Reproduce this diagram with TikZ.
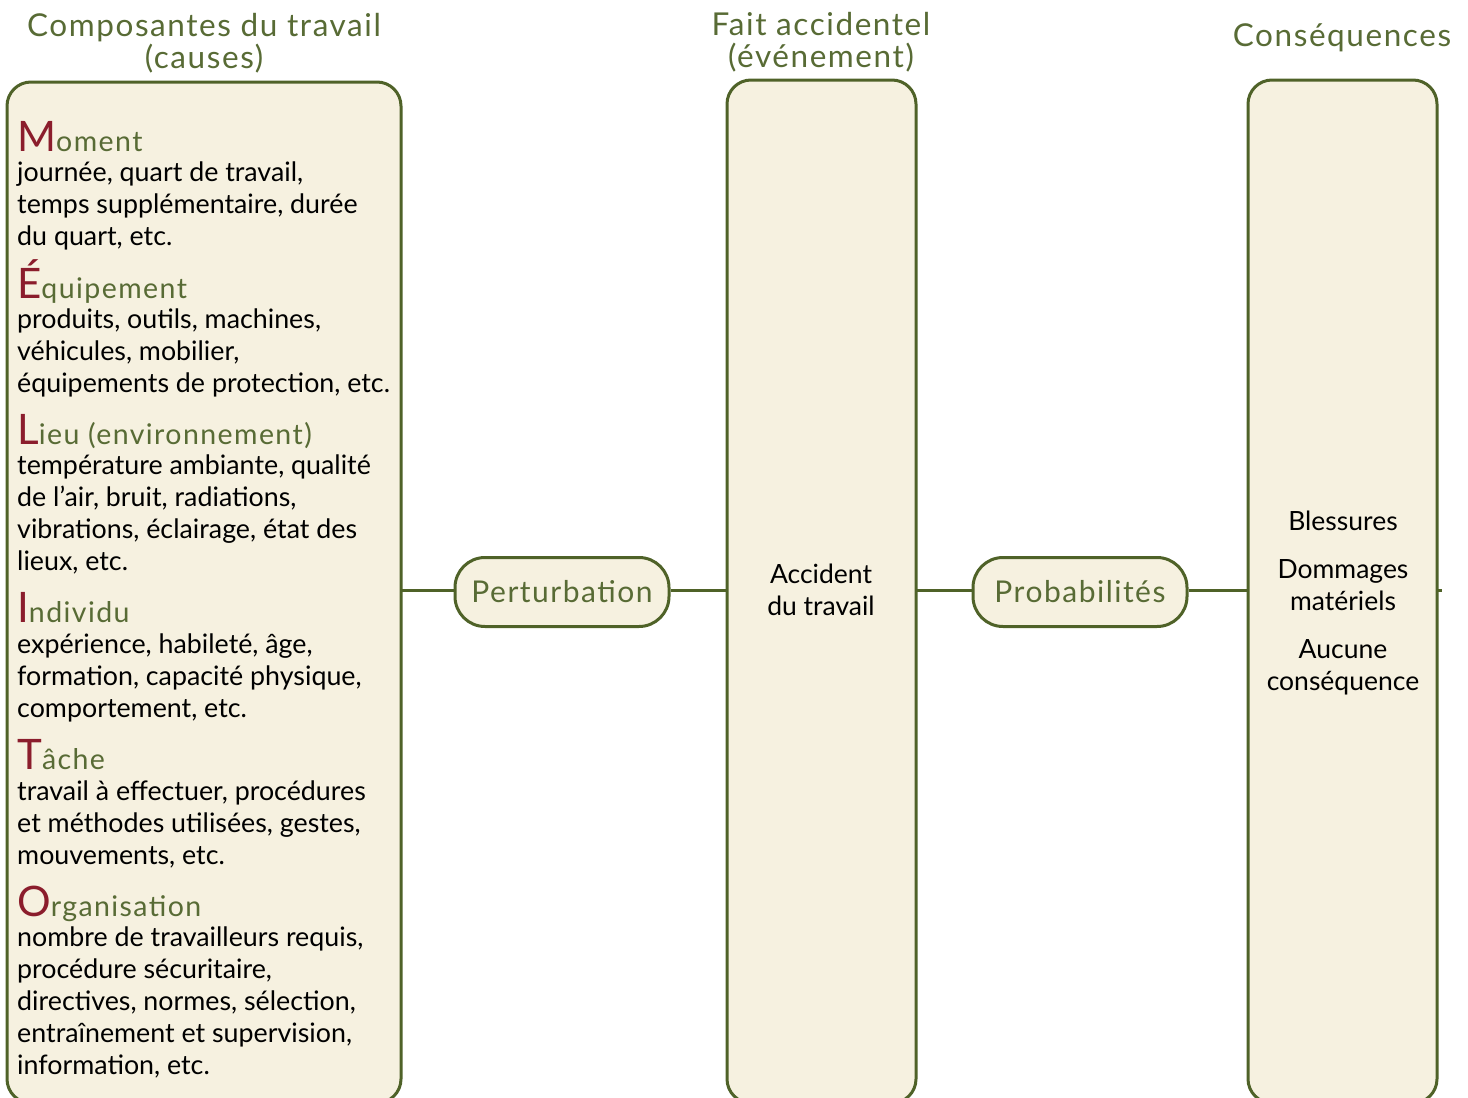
\documentclass[tikz,border=0pt]{standalone}
\usepackage{fontspec}
\setmainfont{Lato}
\newfontfamily\widefont[LetterSpace=5]{Lato}
\definecolor{boxline}{HTML}{4F6228}
\definecolor{titlegreen}{HTML}{586B35}
\definecolor{initred}{HTML}{8B1D2C}
\definecolor{boxfill}{HTML}{F6F1E0}
\tikzset{
  colbox/.style={draw=boxline, fill=boxfill, line width=3pt, rounded corners=24pt},
  pill/.style={draw=boxline, fill=boxfill, line width=3pt, rounded corners=30pt,
    minimum width=214pt, minimum height=69pt, text=titlegreen, font=\widefont\fontsize{30}{32}\selectfont},
  link/.style={draw=boxline, line width=3pt},
  coltitle/.style={text=titlegreen, align=center, font=\widefont\fontsize{31.5}{32}\selectfont, anchor=base},
  heading/.style={anchor=base west, text=titlegreen, font=\widefont\fontsize{28.5}{32}\selectfont},
  desc/.style={anchor=base west, align=left, font=\fontsize{26.8}{32}\selectfont},
  boxtext/.style={anchor=base, align=center, font=\fontsize{26.5}{32}\selectfont}
}
\newcommand{\initial}[1]{{\color{initred}\fontsize{42}{32}\selectfont #1}}
\begin{document}
\begin{tikzpicture}[x=1pt, y=-1pt, every node/.style={inner sep=0pt}]
  \useasboundingbox (0,0) rectangle (1468,1098);
  \clip (0,0) rectangle (1468,1098);

  % column titles (anchored on the last line)
  \node[coltitle] (t1) at (204,68) {Composantes du travail\\(causes)};
  \node[coltitle] (t2) at (821,67) {Fait accidentel\\(événement)};
  \node[coltitle] (t3) at (1342,46) {Conséquences};

  % boxes
  \draw[colbox] (7,82) rectangle (401,1103);
  \draw[colbox] (727,80) rectangle (916,1103);
  \draw[colbox] (1248,80) rectangle (1437,1103);
  \coordinate (c1) at (401,590);
  \coordinate (c2w) at (727,590);
  \coordinate (c2e) at (916,590);
  \coordinate (c3w) at (1248,590);
  \coordinate (c3e) at (1437,590);
  \coordinate (stub) at (1442,590);

  % links
  \node[pill] (pert) at (562,592) {Perturbation};
  \node[pill] (prob) at (1080,592) {Probabilités};
  \draw[link] (c1) -- (c1 -| pert.west);
  \draw[link] (c2w -| pert.east) -- (c2w);
  \draw[link] (c2e) -- (c2e -| prob.west);
  \draw[link] (c3w -| prob.east) -- (c3w);
  \draw[link] (c3e) -- (stub);

  % causes (descriptions anchored on their last line)
  \node[heading] (h1) at (17,151) {\initial{M}oment};
  \node[desc] (d1) at (17,245) {journée, quart de travail,\\temps supplémentaire, durée\\du quart, etc.};
  \node[heading] (h2) at (17,298) {\initial{É}quipement};
  \node[desc] (d2) at (17,392) {produits, outils, machines,\\véhicules, mobilier,\\équipements de protection, etc.};
  \node[heading] (h3) at (17,444) {\initial{L}ieu (environnement)};
  \node[desc] (d3) at (17,570) {température ambiante, qualité\\de l’air, bruit, radiations,\\vibrations, éclairage, état des\\lieux, etc.};
  \node[heading] (h4) at (17,622) {\initial{I}ndividu};
  \node[desc] (d4) at (17,717) {expérience, habileté, âge,\\formation, capacité physique,\\comportement, etc.};
  \node[heading] (h5) at (17,769) {\initial{T}âche};
  \node[desc] (d5) at (17,864) {travail à effectuer, procédures\\et méthodes utilisées, gestes,\\mouvements, etc.};
  \node[heading] (h6) at (17,916) {\initial{O}rganisation};
  \node[desc] (d6) at (17,1074) {nombre de travailleurs requis,\\procédure sécuritaire,\\directives, normes, sélection,\\entraînement et supervision,\\information, etc.};

  % event and consequences
  \node[boxtext] (ev) at (821,615) {Accident\\du travail};
  \node[boxtext] (cons) at (1343,690) {Blessures\\[16pt]Dommages\\matériels\\[16pt]Aucune\\conséquence};
\end{tikzpicture}
\end{document}
